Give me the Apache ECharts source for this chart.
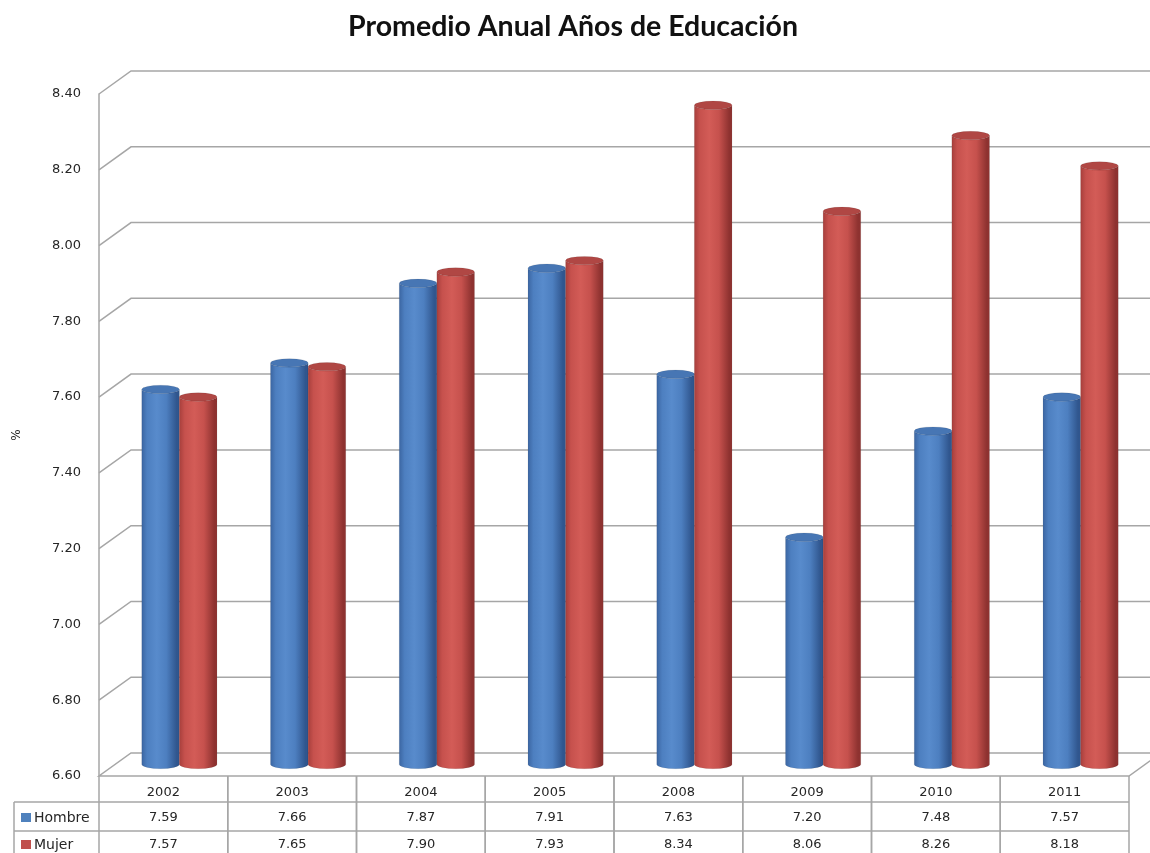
<!DOCTYPE html>
<html>
<head>
<meta charset="utf-8">
<script src="https://cdn.jsdelivr.net/npm/echarts@6/dist/echarts.min.js"></script>
<style>
  html, body { margin: 0; padding: 0; background: #ffffff; }
  #chart { width: 1150px; height: 853px; }
</style>
</head>
<body>
<div id="chart"></div>
<script>
// Años de educación promedio por sexo
const categorias = ['2002', '2003', '2004', '2005', '2008', '2009', '2010', '2011'];
const hombre = [7.59, 7.66, 7.87, 7.91, 7.63, 7.20, 7.48, 7.57];
const mujer = [7.57, 7.65, 7.90, 7.93, 8.34, 8.06, 8.26, 8.18];
const nombresSeries = ['Hombre', 'Mujer'];
const marcasEje = [6.6, 6.8, 7.0, 7.2, 7.4, 7.6, 7.8, 8.0, 8.2, 8.4];

// profundidad de la perspectiva (pared del fondo)
const PROF_X = 32, PROF_Y = -23;
const GRIS = '#a6a6a6';
const FUENTE = '13px "DejaVu Sans", sans-serif';

const estilos = {
  Hombre: { claro: '#588bcc', medio: '#4d7fc0', oscuro: '#30568e', borde: '#3a64a0', tapa: '#4776b4', leyenda: '#4f81bd' },
  Mujer:  { claro: '#d35c57', medio: '#c6514d', oscuro: '#8e3230', borde: '#a53e3b', tapa: '#b04744', leyenda: '#c0504d' }
};

const chart = echarts.init(document.getElementById('chart'), null, { renderer: 'canvas' });

function linea(x1, y1, x2, y2) {
  return { type: 'line', shape: { x1, y1, x2, y2 }, style: { stroke: GRIS, lineWidth: 1.5 } };
}
function texto(t, x, y, align, font) {
  return { type: 'text', style: { text: t, x, y, align: align || 'center', verticalAlign: 'middle', font: font || FUENTE, fill: '#262626' } };
}

// paredes: líneas de división en el fondo y piso
function renderParedes(params, api) {
  const cs = params.coordSys;
  const v = api.value(1);
  const y = api.coord([0, v])[1];
  const x0 = cs.x, x1 = cs.x + cs.width;
  const hijos = [];
  if (Math.abs(v - marcasEje[0]) < 1e-9) {
    hijos.push({
      type: 'polygon',
      shape: { points: [[x0, y], [x1, y], [x1 + PROF_X, y + PROF_Y], [x0 + PROF_X, y + PROF_Y]] },
      style: { fill: 'none', stroke: GRIS, lineWidth: 1.5 }
    });
    hijos.push(linea(x1 + PROF_X, y + PROF_Y, x1 + PROF_X + 40, y + PROF_Y));
  } else {
    hijos.push({
      type: 'polyline',
      shape: { points: [[x0, y], [x0 + PROF_X, y + PROF_Y], [x1 + PROF_X + 40, y + PROF_Y]] },
      style: { fill: 'none', stroke: GRIS, lineWidth: 1.5 }
    });
  }
  return { type: 'group', children: hijos };
}

// cilindros
function renderCilindro(serieIdx) {
  const est = estilos[nombresSeries[serieIdx]];
  return function (params, api) {
    const idx = api.value(0);
    const val = api.value(1);
    const banda = api.size([1, 0])[0];
    const ancho = banda * 0.292;
    const centro = api.coord([idx, val])[0];
    const cx = centro + (serieIdx === 0 ? -ancho / 2 : ancho / 2) + PROF_X / 2;
    const ty = api.coord([idx, val])[1] + PROF_Y / 2;
    const by = api.coord([idx, marcasEje[0]])[1] + PROF_Y / 2;
    const rx = ancho / 2, ry = 4.2;
    const cuerpo = 'M' + (cx - rx) + ',' + ty + ' L' + (cx - rx) + ',' + by +
      ' A' + rx + ',' + ry + ' 0 0 0 ' + (cx + rx) + ',' + by +
      ' L' + (cx + rx) + ',' + ty +
      ' A' + rx + ',' + ry + ' 0 0 1 ' + (cx - rx) + ',' + ty + ' Z';
    const tapa = 'M' + (cx - rx) + ',' + ty +
      ' A' + rx + ',' + ry + ' 0 1 0 ' + (cx + rx) + ',' + ty +
      ' A' + rx + ',' + ry + ' 0 1 0 ' + (cx - rx) + ',' + ty + ' Z';
    return {
      type: 'group',
      children: [
        {
          type: 'path', shape: { pathData: cuerpo },
          style: {
            fill: { type: 'linear', x: 0, y: 0, x2: 1, y2: 0, colorStops: [
              { offset: 0, color: est.borde }, { offset: 0.15, color: est.medio },
              { offset: 0.4, color: est.claro }, { offset: 0.65, color: est.medio },
              { offset: 0.92, color: est.oscuro }, { offset: 1, color: est.oscuro }
            ] },
            stroke: 'rgba(0,0,0,0.1)', lineWidth: 0.8
          }
        },
        {
          type: 'path', shape: { pathData: tapa },
          style: { fill: est.tapa, stroke: 'rgba(0,0,0,0.1)', lineWidth: 0.8 }
        }
      ]
    };
  };
}

// tabla de datos bajo el gráfico
const FILA_ENC = 26, FILA = 29;
function renderTabla(params, api) {
  const idx = api.value(0);
  const banda = api.size([1, 0])[0];
  const c = api.coord([idx, marcasEje[0]]);
  const y0 = c[1];
  const xa = c[0] - banda / 2, xb = c[0] + banda / 2;
  const yF = y0 + FILA_ENC + FILA * 3;
  const hijos = [
    linea(xa, y0, xa, yF), linea(xb, y0, xb, yF),
    linea(xa, y0 + FILA_ENC, xb, y0 + FILA_ENC),
    linea(xa, y0 + FILA_ENC + FILA, xb, y0 + FILA_ENC + FILA),
    texto(categorias[idx], c[0], y0 + 17),
    texto(api.value(1).toFixed(2), c[0], y0 + 42),
    texto(api.value(2).toFixed(2), c[0], y0 + 69)
  ];
  if (idx === 0) {
    const xl = 14;
    hijos.push(linea(xl, y0 + FILA_ENC, xa, y0 + FILA_ENC));
    hijos.push(linea(xl, y0 + FILA_ENC + FILA, xa, y0 + FILA_ENC + FILA));
    hijos.push(linea(xl, y0 + FILA_ENC, xl, yF));
    nombresSeries.forEach(function (n, k) {
      const yc = y0 + 42 + k * 27;
      hijos.push({ type: 'rect', shape: { x: 21, y: yc - 5, width: 10, height: 9 }, style: { fill: estilos[n].leyenda } });
      hijos.push(texto(n, 34, yc, 'left', '14px "DejaVu Sans", sans-serif'));
    });
  }
  return { type: 'group', children: hijos };
}

const option = {
  backgroundColor: '#ffffff',
  animation: false,
  title: {
    text: 'Promedio Anual Años de Educación',
    left: 568, top: 7, textAlign: 'center',
    textStyle: { fontFamily: 'Lato, "Open Sans", sans-serif', fontWeight: 'bold', fontSize: 28.5, color: '#111' }
  },
  grid: { left: 99, right: 21, top: 94, bottom: 77 },
  xAxis: {
    type: 'category', data: categorias, boundaryGap: true,
    axisLine: { show: false }, axisTick: { show: false }, axisLabel: { show: false }, splitLine: { show: false }
  },
  yAxis: {
    type: 'value', min: 6.6, max: 8.4, interval: 0.2,
    name: '%', nameLocation: 'middle', nameGap: 76, nameRotate: 90,
    nameTextStyle: { fontFamily: '"DejaVu Sans", sans-serif', fontSize: 12, color: '#262626' },
    axisLine: { show: true, lineStyle: { color: GRIS, width: 1.5 } },
    axisTick: { show: false },
    splitLine: { show: false },
    axisLabel: { margin: 18, fontFamily: '"DejaVu Sans", sans-serif', fontSize: 13, color: '#262626',
      formatter: function (v) { return v.toFixed(2); } }
  },
  series: [
    { type: 'custom', name: 'paredes', z: 1, clip: false, silent: true,
      data: marcasEje.map(function (v) { return [0, v]; }), renderItem: renderParedes },
    { type: 'custom', name: 'Hombre', z: 3, clip: false,
      data: hombre.map(function (v, i) { return [i, v]; }), renderItem: renderCilindro(0) },
    { type: 'custom', name: 'Mujer', z: 4, clip: false,
      data: mujer.map(function (v, i) { return [i, v]; }), renderItem: renderCilindro(1) },
    { type: 'custom', name: 'tabla', z: 5, clip: false, silent: true,
      data: categorias.map(function (c, i) { return [i, hombre[i], mujer[i]]; }), renderItem: renderTabla }
  ]
};
chart.setOption(option);
</script>
</body>
</html>
